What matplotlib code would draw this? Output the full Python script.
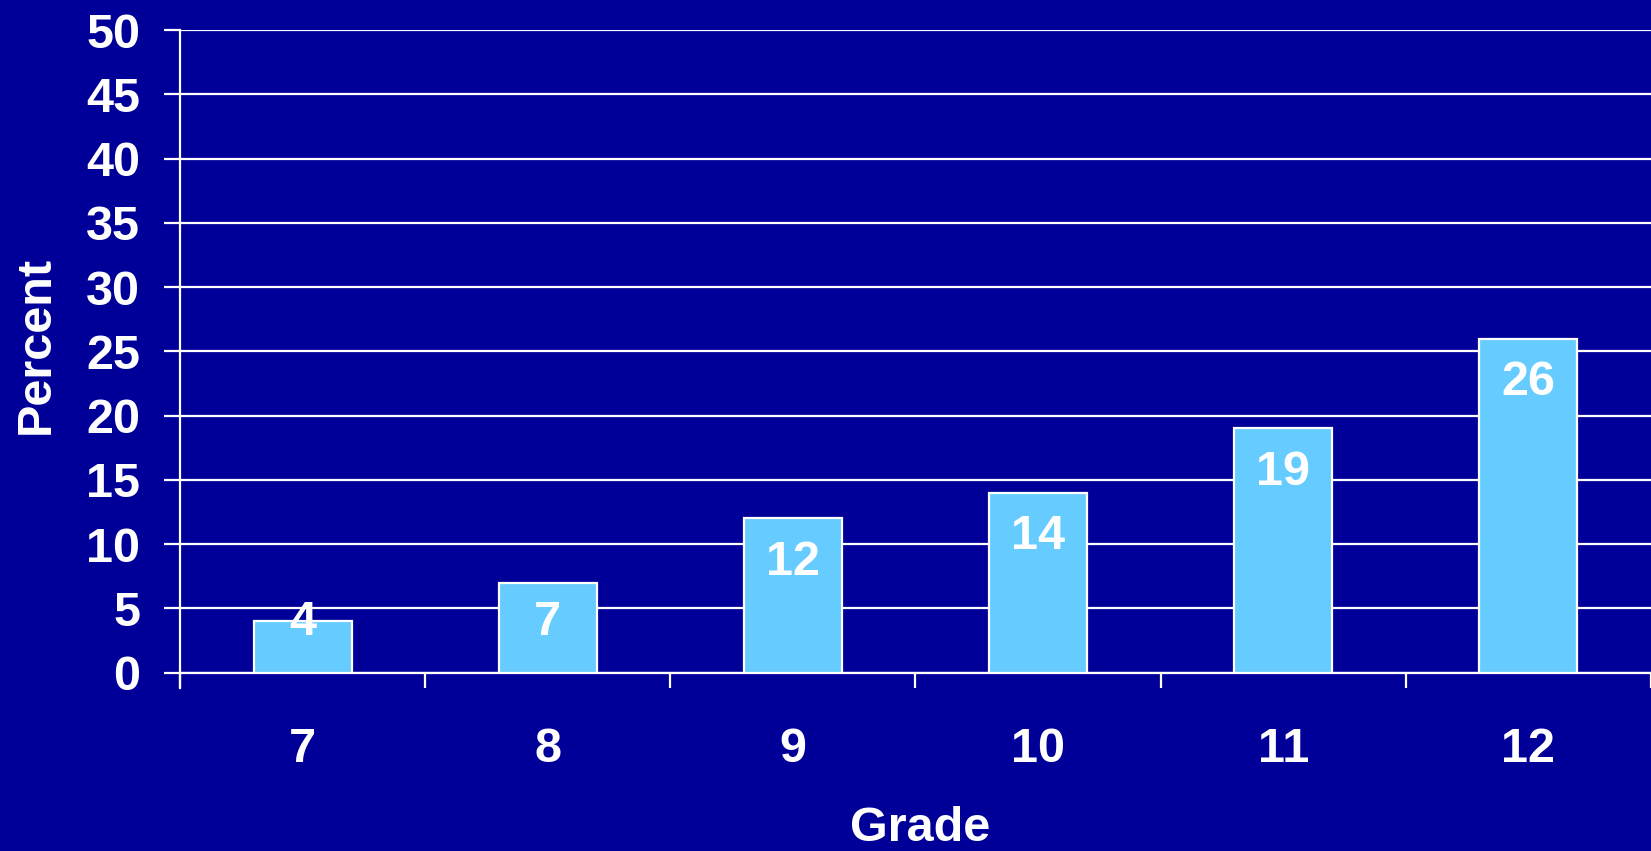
import matplotlib
matplotlib.use('Agg')
import matplotlib.pyplot as plt
import numpy as np

# data
grades = ['7', '8', '9', '10', '11', '12']
percent = [4, 7, 12, 14, 19, 26]
yticks = [0, 5, 10, 15, 20, 25, 30, 35, 40, 45, 50]

bg = '#000099'
barc = '#66CCFF'

plt.rcParams['font.family'] = ['Liberation Sans', 'DejaVu Sans']
plt.rcParams['font.weight'] = 'bold'

fig = plt.figure(figsize=(16.51, 8.51), dpi=100, facecolor=bg)
ax = fig.add_axes([0.109, 0.2095, 0.891, 0.7552])
ax.set_facecolor(bg)

x = np.arange(len(grades))

# grid
ax.set_axisbelow(True)
ax.yaxis.grid(True, color='white', linewidth=1.6)

ax.bar(x, percent, width=0.4, color=barc, edgecolor='white', linewidth=1.6, zorder=3)

# value labels inside bar tops
for xi, v in zip(x, percent):
    ly = max(v - 3.42, 3.87)
    ax.text(xi, ly, str(v), ha='center', va='center', color='white',
            fontsize=35, fontweight='bold', zorder=4)

ax.set_xlim(-0.5, len(grades) - 0.5)
ax.set_ylim(0, 50)
ax.set_yticks(yticks)
ax.set_yticklabels([str(t) for t in yticks])

ax.set_xticks(x)
ax.set_xticklabels(grades)
ax.set_xticks(np.arange(-0.5, len(grades), 1.0), minor=True)

ax.tick_params(axis='y', colors='white', labelsize=35, length=11.5, width=1.6, pad=17)
ax.tick_params(axis='x', which='major', colors='white', labelsize=35, length=0, pad=39)
ax.tick_params(axis='x', which='minor', color='white', length=11, width=1.6)

for s in ['top', 'right']:
    ax.spines[s].set_visible(False)
ax.spines['left'].set_color('white')
ax.spines['left'].set_linewidth(1.6)
ax.spines['left'].set_bounds(-1.2, 50)
ax.spines['bottom'].set_color('white')
ax.spines['bottom'].set_linewidth(1.6)

ax.set_xlabel('Grade', color='white', fontsize=35, fontweight='bold')
ax.xaxis.set_label_coords(0.503, -0.242)
ax.xaxis.label.set_va('center')
ax.set_ylabel('Percent', color='white', fontsize=35, fontweight='bold')
ax.yaxis.set_label_coords(-0.0975, 0.51)
ax.yaxis.label.set_va('center')

fig.savefig('out.png', dpi=100, facecolor=bg)
